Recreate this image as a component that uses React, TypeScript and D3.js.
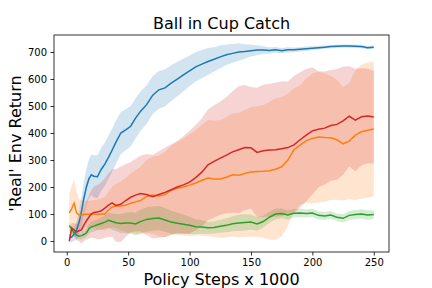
import * as d3 from 'd3';
import { useEffect, useRef } from 'react';

// policy steps (x 1000)
const steps = [2, 4, 6, 8, 10, 12, 14, 16, 18, 20, 22, 25, 28, 31, 34, 37, 40, 44, 48, 52, 56, 60,
    65, 70, 75, 80, 85, 90, 95, 100, 105, 110, 115, 120, 125, 130, 135, 140, 145, 150, 155, 160,
    165, 170, 175, 180, 185, 190, 195, 200, 205, 210, 215, 220, 225, 230, 235, 240, 245, 250];

const blueMean = [10, 15, 25, 40, 70, 110, 160, 200, 230, 245, 240, 238, 265, 285, 310, 337, 365, 400, 412, 425, 455, 480,
    505, 540, 560, 567, 585, 600, 615, 630, 645, 655, 665, 673, 682, 690, 695, 700, 702, 705, 707, 707,
    706, 708, 705, 708, 708, 710, 712, 714, 716, 718, 720, 721, 722, 722, 721, 720, 716, 718];
const blueStd = [15, 20, 25, 35, 45, 55, 62, 68, 72, 75, 78, 80, 80, 80, 80, 80, 80, 78, 76, 75, 74, 73,
    72, 70, 70, 68, 66, 64, 60, 57, 54, 52, 50, 45, 42, 38, 35, 32, 27, 22, 18, 14,
    12, 11, 10, 10, 9, 8, 8, 7, 7, 6, 6, 6, 6, 6, 6, 6, 6, 6];

const orangeMean = [104, 120, 140, 104, 96, 96, 98, 100, 98, 100, 100, 98, 100, 100, 115, 126, 130, 130, 133, 140, 145, 150,
    165, 170, 167, 172, 188, 195, 200, 207, 215, 225, 233, 230, 230, 236, 245, 244, 250, 256, 257, 258,
    260, 266, 275, 300, 338, 355, 372, 380, 385, 383, 382, 375, 360, 370, 392, 405, 410, 415];
const orangeStd = [70, 85, 90, 75, 60, 55, 50, 50, 50, 50, 52, 55, 58, 62, 68, 75, 82, 90, 100, 110, 118, 125,
    135, 142, 150, 158, 165, 172, 180, 188, 195, 205, 215, 215, 218, 222, 228, 230, 235, 240, 242, 245,
    255, 262, 258, 245, 228, 222, 230, 240, 242, 238, 230, 222, 210, 215, 240, 248, 250, 250];

const greenMean = [57, 45, 30, 22, 18, 20, 24, 30, 45, 52, 55, 60, 65, 70, 77, 72, 68, 65, 67, 67, 63, 72,
    80, 83, 85, 78, 70, 66, 62, 58, 53, 52, 49, 50, 55, 58, 64, 67, 69, 70, 63, 72,
    88, 100, 102, 96, 103, 104, 102, 104, 95, 93, 96, 88, 84, 95, 98, 100, 96, 98];
const greenStd = [10, 12, 12, 12, 12, 14, 15, 16, 18, 20, 20, 20, 22, 25, 28, 30, 32, 35, 38, 40, 42, 44,
    45, 45, 45, 44, 42, 40, 36, 32, 28, 25, 22, 22, 24, 26, 28, 30, 30, 28, 25, 22,
    20, 20, 18, 17, 16, 16, 15, 15, 15, 14, 14, 14, 15, 16, 17, 18, 18, 16];

const redMean = [0, 48, 41, 33, 38, 41, 60, 75, 88, 100, 106, 107, 112, 122, 133, 141, 132, 136, 150, 162, 170, 176,
    172, 164, 172, 180, 190, 200, 208, 218, 235, 255, 282, 295, 307, 318, 330, 338, 346, 345, 328, 334,
    337, 338, 342, 346, 356, 375, 392, 408, 414, 418, 428, 432, 445, 462, 448, 460, 463, 459];
const redStd = [10, 20, 25, 30, 40, 50, 60, 70, 80, 88, 95, 100, 105, 110, 118, 125, 135, 140, 135, 130, 135, 140,
    150, 155, 160, 165, 168, 170, 180, 190, 195, 200, 205, 208, 210, 215, 225, 235, 232, 225, 240, 245,
    245, 248, 250, 245, 255, 250, 245, 236, 215, 210, 205, 205, 200, 185, 190, 180, 175, 172];

const xTicks = [0, 50, 100, 150, 200, 250];
const yTicks = [0, 100, 200, 300, 400, 500, 600, 700];

const series = [
    { name: 'blue', color: '#1f77b4', mean: blueMean, std: blueStd },
    { name: 'orange', color: '#ff7f0e', mean: orangeMean, std: orangeStd },
    { name: 'green', color: '#2ca02c', mean: greenMean, std: greenStd },
    { name: 'red', color: '#d62728', mean: redMean, std: redStd },
];

export default function App() {
    const ref = useRef<SVGSVGElement | null>(null);

    useEffect(() => {
        const svg = d3.select(ref.current);
        svg.selectAll('*').remove();

        const width = 432;
        const height = 288;
        const margin = { top: 35, right: 43, bottom: 36, left: 54 };
        const font = 'DejaVu Sans, sans-serif';

        const x = d3.scaleLinear()
            .domain([-10.4, 262.4])
            .range([margin.left, width - margin.right]);
        const y = d3.scaleLinear()
            .domain([-40.7, 763])
            .range([height - margin.bottom, margin.top]);

        svg.attr('width', width).attr('height', height);

        svg.append('clipPath').attr('id', 'plot-clip')
            .append('rect')
            .attr('x', margin.left).attr('y', margin.top)
            .attr('width', width - margin.left - margin.right)
            .attr('height', height - margin.top - margin.bottom);

        const plot = svg.append('g').attr('clip-path', 'url(#plot-clip)');

        series.forEach(s => {
            const area = d3.area<number>()
                .x((_, i) => x(steps[i]))
                .y0((d, i) => y(d - s.std[i]))
                .y1((d, i) => y(d + s.std[i]));
            plot.append('path')
                .attr('d', area(s.mean))
                .attr('fill', s.color)
                .attr('fill-opacity', 0.2);
        });

        series.forEach(s => {
            const line = d3.line<number>()
                .x((_, i) => x(steps[i]))
                .y(d => y(d));
            plot.append('path')
                .attr('d', line(s.mean))
                .attr('fill', 'none')
                .attr('stroke', s.color)
                .attr('stroke-width', 1.5);
        });

        const xAxis = svg.append('g')
            .attr('transform', `translate(0,${height - margin.bottom})`)
            .call(d3.axisBottom(x).tickValues(xTicks).tickSize(3.5).tickPadding(3.5));
        const yAxis = svg.append('g')
            .attr('transform', `translate(${margin.left},0)`)
            .call(d3.axisLeft(y).tickValues(yTicks).tickSize(3.5).tickPadding(3.5));

        [xAxis, yAxis].forEach(a => {
            a.select('.domain').remove();
            a.selectAll('line').attr('stroke', '#000').attr('stroke-width', 0.8);
            a.selectAll('text').attr('font-family', font).attr('font-size', 10).attr('fill', '#000');
        });

        svg.append('rect')
            .attr('x', margin.left).attr('y', margin.top)
            .attr('width', width - margin.left - margin.right)
            .attr('height', height - margin.top - margin.bottom)
            .attr('fill', 'none')
            .attr('stroke', '#000')
            .attr('stroke-width', 0.8);

        svg.append('text')
            .attr('x', (margin.left + width - margin.right) / 2)
            .attr('y', 29)
            .attr('text-anchor', 'middle')
            .attr('font-family', font)
            .attr('font-size', 16)
            .text('Ball in Cup Catch');

        svg.append('text')
            .attr('x', (margin.left + width - margin.right) / 2)
            .attr('y', 285)
            .attr('text-anchor', 'middle')
            .attr('font-family', font)
            .attr('font-size', 16)
            .text('Policy Steps x 1000');

        svg.append('text')
            .attr('transform', `translate(21,${(margin.top + height - margin.bottom) / 2}) rotate(-90)`)
            .attr('text-anchor', 'middle')
            .attr('font-family', font)
            .attr('font-size', 16)
            .text("'Real' Env Return");
    }, []);

    return <svg ref={ref} style={{ position: 'absolute', left: 0, top: 0 }}></svg>;
}
